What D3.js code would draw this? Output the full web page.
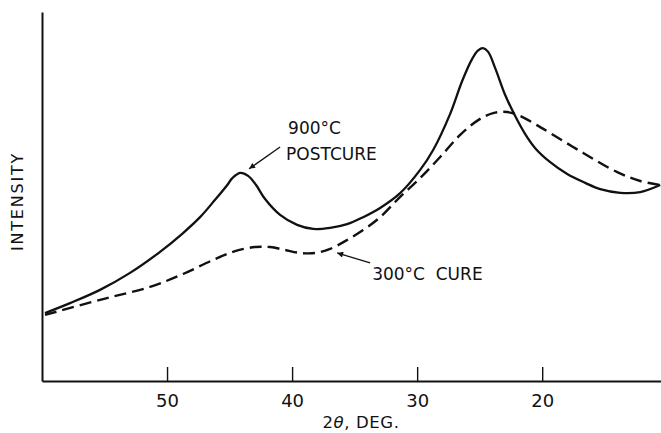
<!DOCTYPE html>
<html>
<head>
<meta charset="utf-8">
<script src="https://cdn.jsdelivr.net/npm/d3@7/dist/d3.min.js"></script>
<style>
  html, body { margin: 0; padding: 0; background: #fff; }
  svg { display: block; }
  text { font-family: "DejaVu Sans", sans-serif; fill: #111; }
</style>
</head>
<body>
<script>
// ---- data (2θ in degrees, intensity in arbitrary units 0–100) ----
const postcureX = [59.76, 57.76, 55.36, 52.96, 50.56, 48.72, 47.36, 46.16, 45.12, 44.8, 44.16, 43.52, 42.88, 42.16, 40.96, 39.6, 38.32, 36.96, 35.6, 34.32, 32.96, 31.36, 29.76, 28.72, 27.36, 26.4, 25.6, 25.12, 24.72, 24.32, 23.76, 22.96, 22.16, 21.36, 20.56, 19.36, 18.0, 16.56, 15.36, 13.76, 12.16, 10.56];
const postcureY = [18.4, 21.1, 24.7, 29.3, 35.0, 40.1, 44.4, 49.1, 53.4, 54.9, 56.4, 55.6, 53.1, 49.3, 45.0, 42.3, 41.2, 41.5, 42.5, 44.4, 46.9, 50.9, 57.2, 62.6, 72.4, 81.3, 87.3, 89.6, 90.2, 89.2, 84.8, 77.5, 71.8, 66.9, 63.1, 59.3, 56.1, 53.7, 52.0, 51.0, 51.2, 53.1];

const cureX = [59.76, 55.36, 51.36, 48.72, 46.32, 44.56, 42.96, 41.76, 40.56, 39.36, 38.16, 36.96, 35.76, 34.32, 32.96, 31.36, 29.76, 28.16, 26.56, 25.12, 23.92, 22.8, 21.76, 20.56, 19.36, 16.72, 14.0, 12.16, 10.56];
const cureY = [17.9, 22.0, 25.5, 29.0, 32.8, 35.2, 36.3, 36.3, 35.5, 34.7, 34.7, 35.8, 37.9, 40.9, 44.4, 49.9, 55.0, 60.7, 66.7, 70.7, 72.6, 72.9, 71.8, 69.6, 67.2, 61.8, 56.6, 54.2, 53.1];

const xTicks = [50, 40, 30, 20];
const xTickLabels = ["50", "40", "30", "20"];
const xDomain = [60, 10.5];
const yDomain = [0, 100];

const yLabel = "INTENSITY";
const annoPost = ["900°C", "POSTCURE"];
const annoCure = "300°C  CURE";

// annotation anchors in data units
const arrowPost = { from: [40.96, 63.4], to: [43.44, 57.5] };
const arrowCure = { from: [33.76, 32.0], to: [36.4, 34.7] };
const textPost = [[40.32, 66.9], [40.48, 59.9]];
const textCure = [33.6, 27.4];

// ---- drawing ----
const W = 661, H = 433;
const svg = d3.select("body").append("svg").attr("width", W).attr("height", H);

const x = d3.scaleLinear().domain(xDomain).range([42, 661]);
const y = d3.scaleLinear().domain(yDomain).range([381, 12]);

svg.append("defs").append("marker")
  .attr("id", "ah").attr("viewBox", "0 0 10 10")
  .attr("refX", 10).attr("refY", 5)
  .attr("markerWidth", 11).attr("markerHeight", 6)
  .attr("markerUnits", "userSpaceOnUse")
  .attr("orient", "auto")
  .append("path").attr("d", "M0,0 L10,5 L0,10 Z").attr("fill", "#111");

// axes
const xAxis = d3.axisBottom(x)
  .tickValues(xTicks)
  .tickFormat((d, i) => xTickLabels[i])
  .tickSizeInner(-14).tickSizeOuter(0).tickPadding(13);
const gx = svg.append("g").attr("transform", `translate(0,${y(0)})`).call(xAxis);
gx.select(".domain").attr("stroke", "#111").attr("stroke-width", 2);
gx.selectAll(".tick line").attr("stroke", "#111").attr("stroke-width", 1.4);
gx.selectAll(".tick text").attr("font-size", 18).attr("font-family", "DejaVu Sans").attr("fill", "#111");

const yAxis = d3.axisLeft(y).tickValues([]).tickSizeOuter(0);
const gy = svg.append("g").attr("transform", `translate(${x(xDomain[0])},0)`).call(yAxis);
gy.select(".domain").attr("stroke", "#111").attr("stroke-width", 2);

// axis labels
svg.append("text")
  .attr("transform", `translate(23,${(y(0) + y(100)) / 2 + 5}) rotate(-90)`)
  .attr("text-anchor", "middle")
  .attr("font-size", 16)
  .attr("letter-spacing", 1.8)
  .text(yLabel);

svg.append("text")
  .attr("x", 361).attr("y", 428)
  .attr("text-anchor", "middle")
  .attr("font-size", 16.5)
  .attr("letter-spacing", 0.6)
  .html('2<tspan font-style="italic">θ</tspan>, DEG.');

// curves
const line = d3.line().x(d => x(d[0])).y(d => y(d[1])).curve(d3.curveCatmullRom.alpha(0.5));
const postData = postcureX.map((v, i) => [v, postcureY[i]]);
const cureData = cureX.map((v, i) => [v, cureY[i]]);

svg.append("path").datum(cureData)
  .attr("d", line).attr("fill", "none").attr("stroke", "#111")
  .attr("stroke-width", 2.4).attr("stroke-dasharray", "12,6");

svg.append("path").datum(postData)
  .attr("d", line).attr("fill", "none").attr("stroke", "#111")
  .attr("stroke-width", 2.3);

// annotations
function arrow(a) {
  svg.append("line")
    .attr("x1", x(a.from[0])).attr("y1", y(a.from[1]))
    .attr("x2", x(a.to[0])).attr("y2", y(a.to[1]))
    .attr("stroke", "#111").attr("stroke-width", 1.3)
    .attr("marker-end", "url(#ah)");
}
arrow(arrowPost);
arrow(arrowCure);

annoPost.forEach((t, i) => {
  svg.append("text").attr("x", x(textPost[i][0])).attr("y", y(textPost[i][1]))
    .attr("font-size", 17).text(t);
});
svg.append("text").attr("x", x(textCure[0])).attr("y", y(textCure[1]))
  .attr("font-size", 17).style("white-space", "pre").text(annoCure);
</script>
</body>
</html>
